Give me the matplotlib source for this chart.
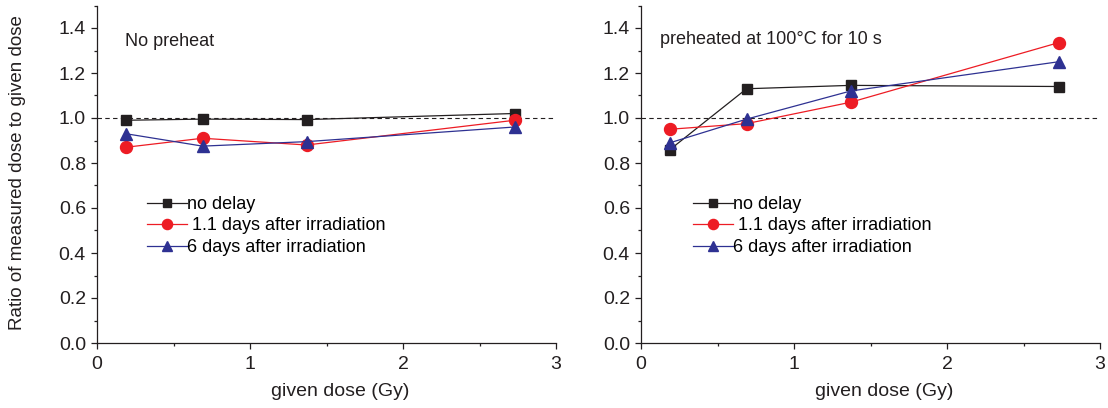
import matplotlib
matplotlib.use("Agg")
import matplotlib.pyplot as plt
from matplotlib.ticker import MultipleLocator, FormatStrFormatter

plt.rcParams['font.family'] = ['Liberation Sans', 'DejaVu Sans']

dose = [0.19, 0.69, 1.37, 2.73]
left_nodelay = [0.99, 0.995, 0.993, 1.02]
left_1_1days = [0.87, 0.91, 0.88, 0.99]
left_6days = [0.93, 0.875, 0.895, 0.96]
right_nodelay = [0.86, 1.13, 1.145, 1.14]
right_1_1days = [0.95, 0.975, 1.07, 1.335]
right_6days = [0.89, 0.995, 1.12, 1.25]
labels = ["no delay", " 1.1 days after irradiation", "6 days after irradiation"]
titles = ["No preheat", "preheated at 100°C for 10 s"]
yticks = [0.0, 0.2, 0.4, 0.6, 0.8, 1.0, 1.2, 1.4]

BLACK = "#231f20"
RED = "#ed1c24"
BLUE = "#2e3192"

fig = plt.figure(figsize=(11.08, 4.08), dpi=100)
ax1 = fig.add_axes([97/1108, 1-343/408, (556-97)/1108, 337.5/408])
ax2 = fig.add_axes([641/1108, 1-343/408, (1100-641)/1108, 337.5/408])

settings = [
    (ax1, (left_nodelay, left_1_1days, left_6days), titles[0], 0.061, 0.892, 0.109),
    (ax2, (right_nodelay, right_1_1days, right_6days), titles[1], 0.041, 0.898, 0.113),
]
for ax, data, title, tx, ty, lx in settings:
    ax.axhline(1.0, color=BLACK, ls=(0, (4, 3)), lw=0.8, zorder=1)
    ax.plot(dose, data[0], color=BLACK, lw=0.9, marker='s', ms=6.8, mfc=BLACK, mec=BLACK, label=labels[0], zorder=3)
    ax.plot(dose, data[1], color=RED, lw=0.9, marker='o', ms=8.6, mfc=RED, mec=RED, label=labels[1], zorder=3)
    ax.plot(dose, data[2], color=BLUE, lw=0.9, marker='^', ms=9.3, mfc=BLUE, mec=BLUE, label=labels[2], zorder=3)
    ax.set_xlim(0, 3)
    ax.set_ylim(0, 1.5)
    ax.spines['top'].set_visible(False)
    ax.spines['right'].set_visible(False)
    for s in ('left', 'bottom'):
        ax.spines[s].set_color(BLACK)
        ax.spines[s].set_linewidth(0.9)
    ax.xaxis.set_major_locator(MultipleLocator(1))
    ax.xaxis.set_minor_locator(MultipleLocator(0.5))
    ax.set_yticks(yticks)
    ax.yaxis.set_minor_locator(MultipleLocator(0.1))
    ax.yaxis.set_major_formatter(FormatStrFormatter('%.1f'))
    ax.tick_params(axis='both', which='major', direction='out', length=4.5, width=0.9,
                   labelsize=14, colors=BLACK, pad=3.5)
    ax.tick_params(axis='x', which='major', pad=5)
    ax.tick_params(axis='both', which='minor', direction='out', length=2.5, width=0.9, colors=BLACK)
    ax.set_xlabel("given dose (Gy)", fontsize=14, color=BLACK)
    ax.xaxis.set_label_coords(0.53, -0.118)
    ax.text(tx, ty, title, transform=ax.transAxes, fontsize=13, color=BLACK, va='center')
    ax.legend(loc='upper left', bbox_to_anchor=(lx, 0.436), frameon=False,
              fontsize=13, handlelength=2.2, handletextpad=0.0, labelspacing=0.25, borderpad=0,
              borderaxespad=0, markerscale=0.85)

ax1.set_ylabel("Ratio of measured dose to given dose", fontsize=13.5, color=BLACK)
ax1.yaxis.set_label_coords(-0.155, 0.505)

fig.savefig("out.png", dpi=100)
